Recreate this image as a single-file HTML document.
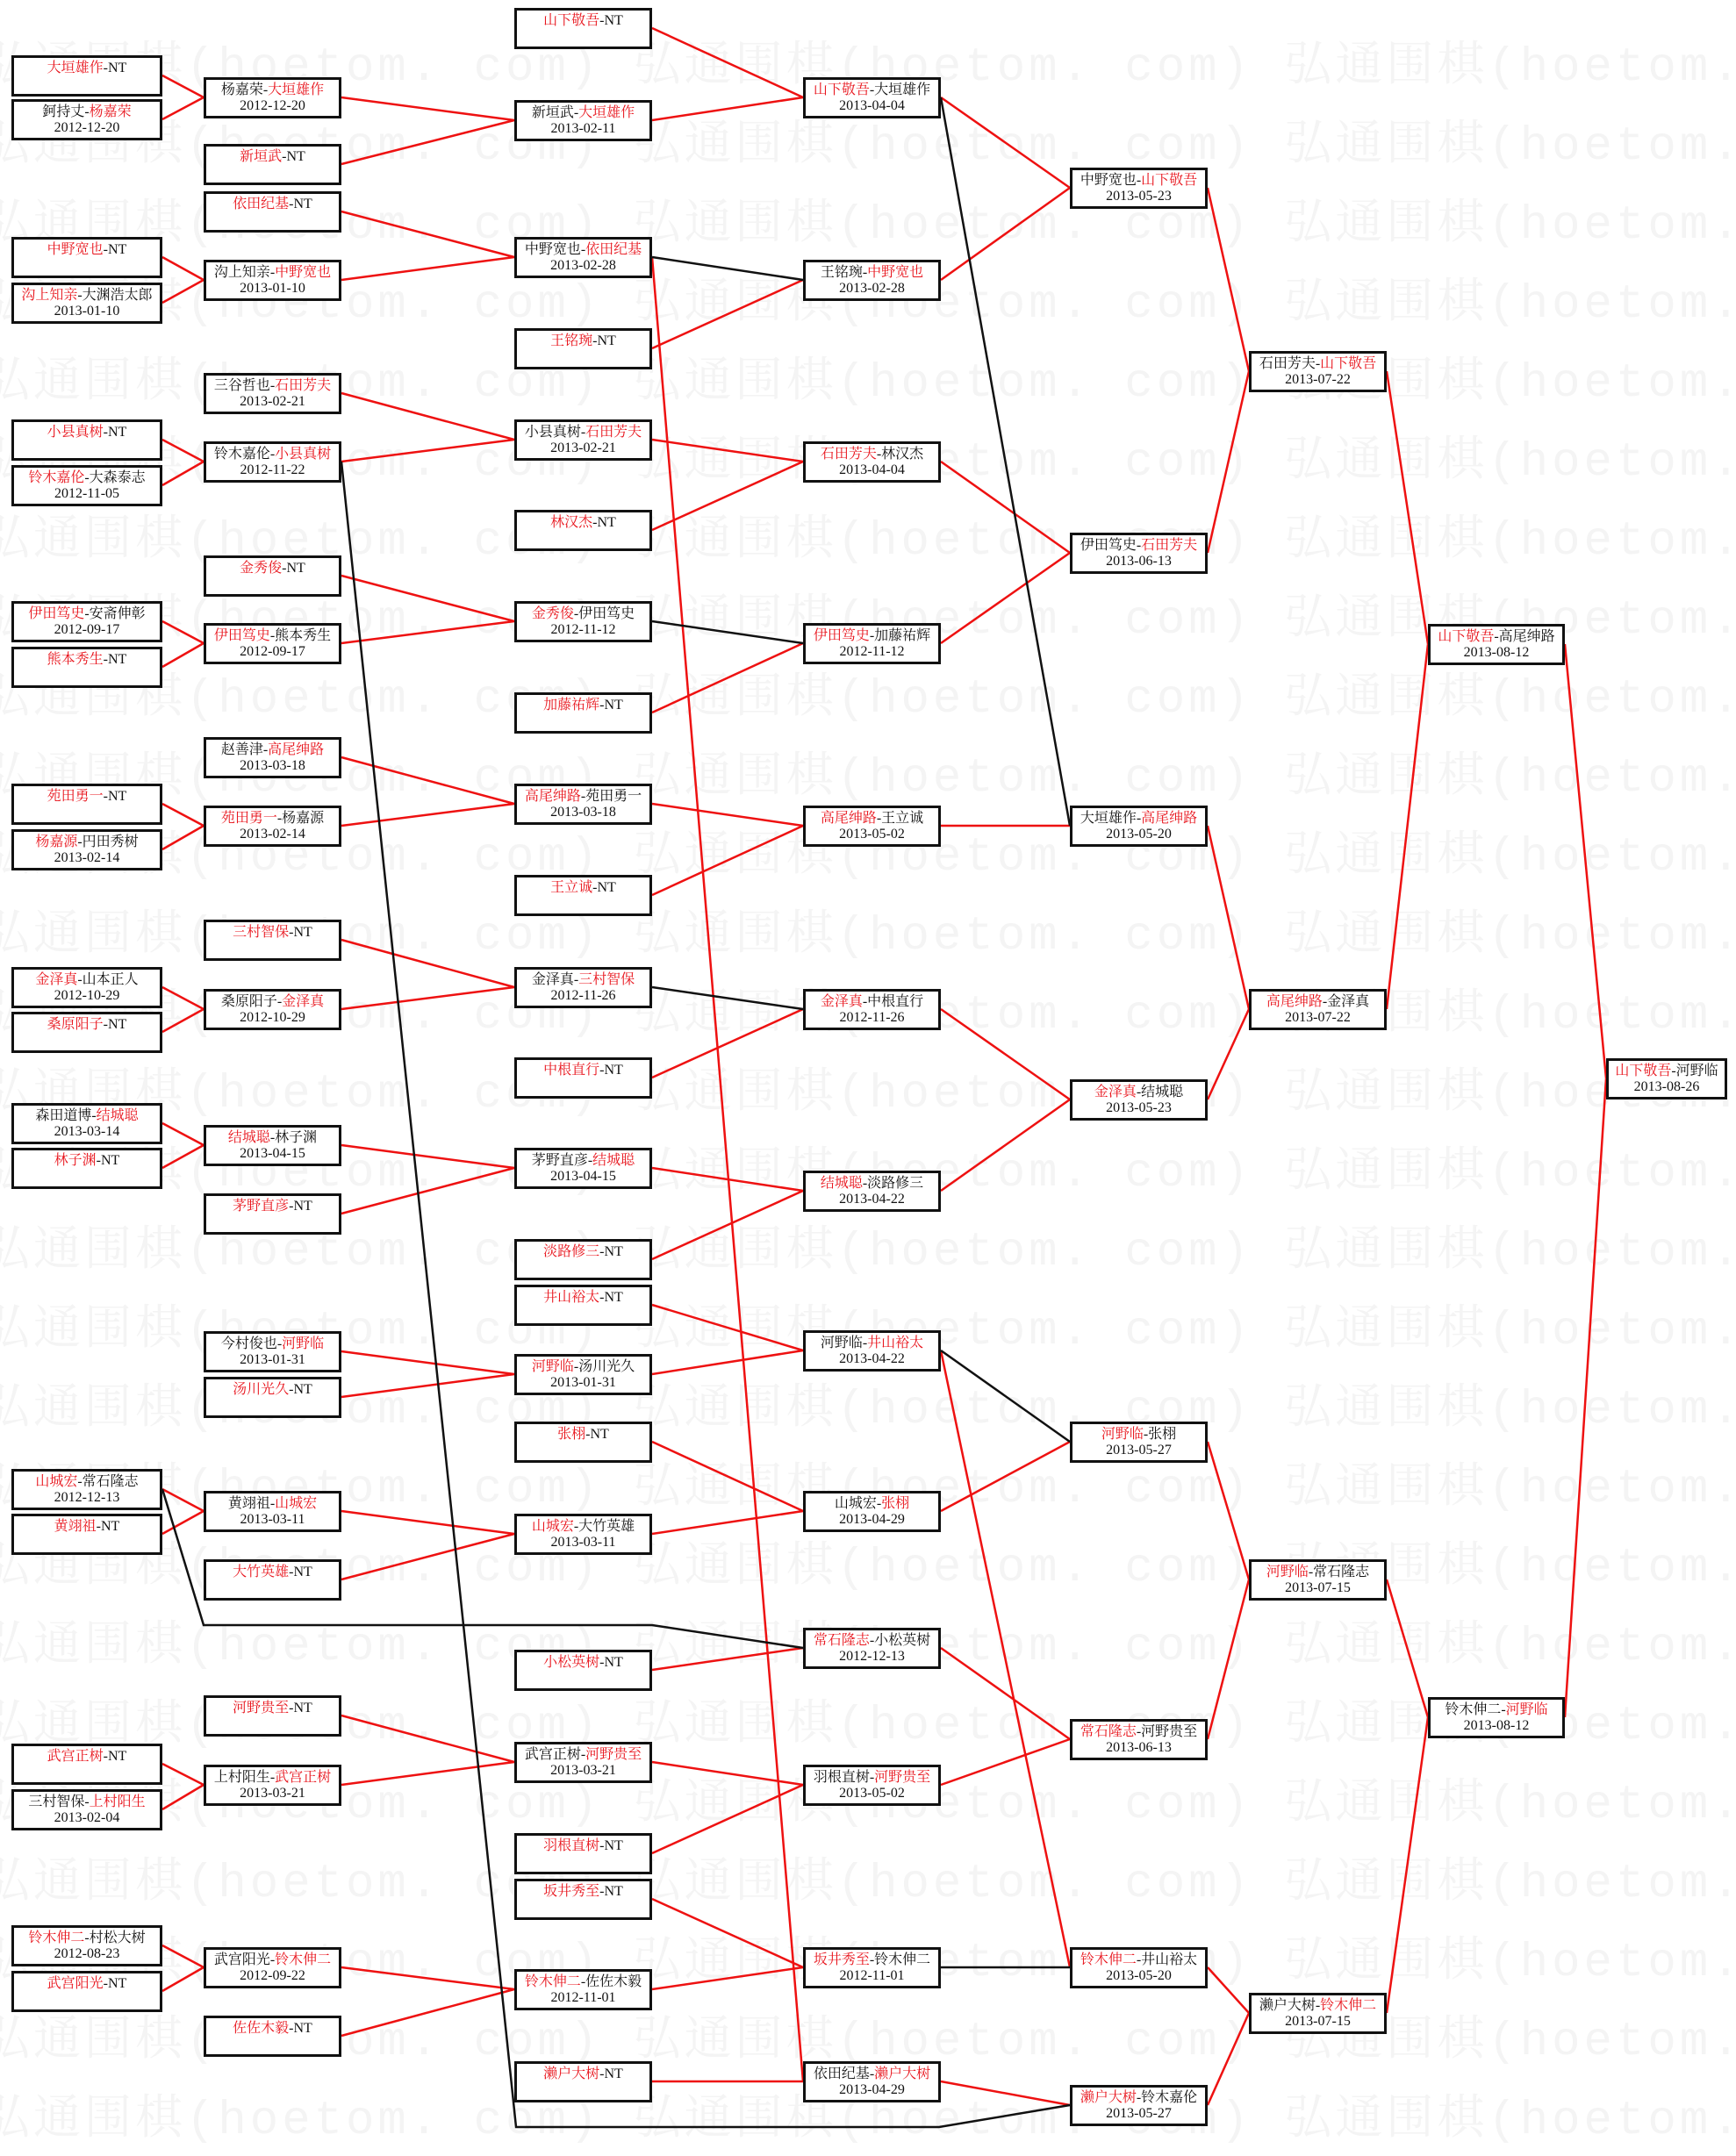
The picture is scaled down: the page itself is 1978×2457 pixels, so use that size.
<!DOCTYPE html>
<html><head><meta charset="utf-8">
<style>
html,body{margin:0;padding:0;background:#fff;}
#w{position:relative;width:1978px;height:2457px;overflow:hidden;background:#fff;}
.wm{position:absolute;left:-20px;white-space:nowrap;font-family:"Liberation Mono","Noto Serif CJK SC",monospace;font-size:54px;color:#f4f4f4;letter-spacing:4px;}
.b{position:absolute;height:38px;border:3px solid #111;background:#fff;font-family:"Liberation Serif","Noto Serif CJK SC",serif;font-size:16px;line-height:18px;text-align:center;padding-top:3px;box-sizing:content-box;color:#111;white-space:nowrap;}
.r{color:#e8141c;}
svg{position:absolute;left:0;top:0;}
</style></head><body><div id="w">
<div class="wm" style="top:30px">弘通围棋(hoetom. com) 弘通围棋(hoetom. com) 弘通围棋(hoetom. com)</div>
<div class="wm" style="top:120px">弘通围棋(hoetom. com) 弘通围棋(hoetom. com) 弘通围棋(hoetom. com)</div>
<div class="wm" style="top:210px">弘通围棋(hoetom. com) 弘通围棋(hoetom. com) 弘通围棋(hoetom. com)</div>
<div class="wm" style="top:300px">弘通围棋(hoetom. com) 弘通围棋(hoetom. com) 弘通围棋(hoetom. com)</div>
<div class="wm" style="top:390px">弘通围棋(hoetom. com) 弘通围棋(hoetom. com) 弘通围棋(hoetom. com)</div>
<div class="wm" style="top:480px">弘通围棋(hoetom. com) 弘通围棋(hoetom. com) 弘通围棋(hoetom. com)</div>
<div class="wm" style="top:570px">弘通围棋(hoetom. com) 弘通围棋(hoetom. com) 弘通围棋(hoetom. com)</div>
<div class="wm" style="top:660px">弘通围棋(hoetom. com) 弘通围棋(hoetom. com) 弘通围棋(hoetom. com)</div>
<div class="wm" style="top:750px">弘通围棋(hoetom. com) 弘通围棋(hoetom. com) 弘通围棋(hoetom. com)</div>
<div class="wm" style="top:840px">弘通围棋(hoetom. com) 弘通围棋(hoetom. com) 弘通围棋(hoetom. com)</div>
<div class="wm" style="top:930px">弘通围棋(hoetom. com) 弘通围棋(hoetom. com) 弘通围棋(hoetom. com)</div>
<div class="wm" style="top:1020px">弘通围棋(hoetom. com) 弘通围棋(hoetom. com) 弘通围棋(hoetom. com)</div>
<div class="wm" style="top:1110px">弘通围棋(hoetom. com) 弘通围棋(hoetom. com) 弘通围棋(hoetom. com)</div>
<div class="wm" style="top:1200px">弘通围棋(hoetom. com) 弘通围棋(hoetom. com) 弘通围棋(hoetom. com)</div>
<div class="wm" style="top:1290px">弘通围棋(hoetom. com) 弘通围棋(hoetom. com) 弘通围棋(hoetom. com)</div>
<div class="wm" style="top:1380px">弘通围棋(hoetom. com) 弘通围棋(hoetom. com) 弘通围棋(hoetom. com)</div>
<div class="wm" style="top:1470px">弘通围棋(hoetom. com) 弘通围棋(hoetom. com) 弘通围棋(hoetom. com)</div>
<div class="wm" style="top:1560px">弘通围棋(hoetom. com) 弘通围棋(hoetom. com) 弘通围棋(hoetom. com)</div>
<div class="wm" style="top:1650px">弘通围棋(hoetom. com) 弘通围棋(hoetom. com) 弘通围棋(hoetom. com)</div>
<div class="wm" style="top:1740px">弘通围棋(hoetom. com) 弘通围棋(hoetom. com) 弘通围棋(hoetom. com)</div>
<div class="wm" style="top:1830px">弘通围棋(hoetom. com) 弘通围棋(hoetom. com) 弘通围棋(hoetom. com)</div>
<div class="wm" style="top:1920px">弘通围棋(hoetom. com) 弘通围棋(hoetom. com) 弘通围棋(hoetom. com)</div>
<div class="wm" style="top:2010px">弘通围棋(hoetom. com) 弘通围棋(hoetom. com) 弘通围棋(hoetom. com)</div>
<div class="wm" style="top:2100px">弘通围棋(hoetom. com) 弘通围棋(hoetom. com) 弘通围棋(hoetom. com)</div>
<div class="wm" style="top:2190px">弘通围棋(hoetom. com) 弘通围棋(hoetom. com) 弘通围棋(hoetom. com)</div>
<div class="wm" style="top:2280px">弘通围棋(hoetom. com) 弘通围棋(hoetom. com) 弘通围棋(hoetom. com)</div>
<div class="wm" style="top:2370px">弘通围棋(hoetom. com) 弘通围棋(hoetom. com) 弘通围棋(hoetom. com)</div>

<svg width="1978" height="2457" fill="none" stroke-width="2.5">
<g stroke="#ee1111">
<path d="M185 86L232 111M185 136L232 111M185 293L232 319M185 345L232 319M185 501L232 526M185 553L232 526M185 708L232 733M185 760L232 733M185 916L232 941M185 968L232 941M185 1125L232 1150M185 1176L232 1150M185 1280L232 1305M185 1331L232 1305M185 1697L232 1722M185 1748L232 1722M185 2010L232 2034M185 2062L232 2034M185 2217L232 2242M185 2269L232 2242"/>
<path d="M389 111L586 137M389 187L586 137M389 241L586 293M389 319L586 293M389 448L586 501M389 526L586 501M389 656L586 708M389 733L586 708M389 863L586 916M389 941L586 916M389 1071L586 1125M389 1150L586 1125M389 1305L586 1331M389 1383L586 1331M389 1540L586 1566M389 1592L586 1566M389 1722L586 1748M389 1800L586 1748M389 1955L586 2008M389 2034L586 2008M389 2242L586 2267M389 2320L586 2267"/>
<path d="M743 32L915 111M743 137L915 111M743 397L915 319M743 501L915 526M743 604L915 526M743 812L915 733M743 916L915 941M743 1020L915 941M743 1228L915 1150M743 1331L915 1357M743 1435L915 1357M743 1487L915 1539M743 1566L915 1539M743 1643L915 1722M743 1748L915 1722M743 1903L915 1878M743 2008L915 2034M743 2112L915 2034M743 2164L915 2242M743 2267L915 2242M743 2372L915 2372M743 293L915 2372"/>
<path d="M1072 111L1219 214M1072 319L1219 214M1072 526L1219 630M1072 733L1219 630M1072 941L1219 941M1072 1150L1219 1253M1072 1357L1219 1253M1072 1722L1219 1643M1072 1539L1219 2242M1072 1878L1219 1982M1072 2034L1219 1982M1072 2372L1219 2399"/>
<path d="M1376 214L1423 423M1376 630L1423 423M1376 941L1423 1150M1376 1253L1423 1150M1376 1643L1423 1800M1376 1982L1423 1800M1376 2242L1423 2294M1376 2399L1423 2294"/>
<path d="M1580 423L1627 734M1580 1150L1627 734M1580 1800L1627 1957M1580 2294L1627 1957M1783 734L1830 1229M1783 1957L1830 1229"/>
</g>
<g stroke="#111">
<path d="M743 293L915 319M743 708L915 733M743 1125L915 1150M1072 111L1219 941M1072 1539L1219 1643M1072 2242L1219 2242"/>
<path d="M185 1697L232 1852L743 1852L915 1878"/>
<path d="M389 526L588 2424L1070 2424L1219 2399"/>
</g>
</svg>

<!-- col0 -->
<div class="b" style="left:13px;top:63px;width:166px"><span class="r">大垣雄作</span>-NT</div>
<div class="b" style="left:13px;top:113px;width:166px">鈳持丈-<span class="r">杨嘉荣</span><br>2012-12-20</div>
<div class="b" style="left:13px;top:270px;width:166px"><span class="r">中野宽也</span>-NT</div>
<div class="b" style="left:13px;top:322px;width:166px"><span class="r">沟上知亲</span>-大渊浩太郎<br>2013-01-10</div>
<div class="b" style="left:13px;top:478px;width:166px"><span class="r">小县真树</span>-NT</div>
<div class="b" style="left:13px;top:530px;width:166px"><span class="r">铃木嘉伦</span>-大森泰志<br>2012-11-05</div>
<div class="b" style="left:13px;top:685px;width:166px"><span class="r">伊田笃史</span>-安斋伸彰<br>2012-09-17</div>
<div class="b" style="left:13px;top:737px;width:166px"><span class="r">熊本秀生</span>-NT</div>
<div class="b" style="left:13px;top:893px;width:166px"><span class="r">苑田勇一</span>-NT</div>
<div class="b" style="left:13px;top:945px;width:166px"><span class="r">杨嘉源</span>-円田秀树<br>2013-02-14</div>
<div class="b" style="left:13px;top:1102px;width:166px"><span class="r">金泽真</span>-山本正人<br>2012-10-29</div>
<div class="b" style="left:13px;top:1153px;width:166px"><span class="r">桑原阳子</span>-NT</div>
<div class="b" style="left:13px;top:1257px;width:166px">森田道博-<span class="r">结城聪</span><br>2013-03-14</div>
<div class="b" style="left:13px;top:1308px;width:166px"><span class="r">林子渊</span>-NT</div>
<div class="b" style="left:13px;top:1674px;width:166px"><span class="r">山城宏</span>-常石隆志<br>2012-12-13</div>
<div class="b" style="left:13px;top:1725px;width:166px"><span class="r">黄翊祖</span>-NT</div>
<div class="b" style="left:13px;top:1987px;width:166px"><span class="r">武宫正树</span>-NT</div>
<div class="b" style="left:13px;top:2039px;width:166px">三村智保-<span class="r">上村阳生</span><br>2013-02-04</div>
<div class="b" style="left:13px;top:2194px;width:166px"><span class="r">铃木伸二</span>-村松大树<br>2012-08-23</div>
<div class="b" style="left:13px;top:2246px;width:166px"><span class="r">武宫阳光</span>-NT</div>
<!-- col1 -->
<div class="b" style="left:232px;top:88px;width:151px">杨嘉荣-<span class="r">大垣雄作</span><br>2012-12-20</div>
<div class="b" style="left:232px;top:164px;width:151px"><span class="r">新垣武</span>-NT</div>
<div class="b" style="left:232px;top:218px;width:151px"><span class="r">依田纪基</span>-NT</div>
<div class="b" style="left:232px;top:296px;width:151px">沟上知亲-<span class="r">中野宽也</span><br>2013-01-10</div>
<div class="b" style="left:232px;top:425px;width:151px">三谷哲也-<span class="r">石田芳夫</span><br>2013-02-21</div>
<div class="b" style="left:232px;top:503px;width:151px">铃木嘉伦-<span class="r">小县真树</span><br>2012-11-22</div>
<div class="b" style="left:232px;top:633px;width:151px"><span class="r">金秀俊</span>-NT</div>
<div class="b" style="left:232px;top:710px;width:151px"><span class="r">伊田笃史</span>-熊本秀生<br>2012-09-17</div>
<div class="b" style="left:232px;top:840px;width:151px">赵善津-<span class="r">高尾绅路</span><br>2013-03-18</div>
<div class="b" style="left:232px;top:918px;width:151px"><span class="r">苑田勇一</span>-杨嘉源<br>2013-02-14</div>
<div class="b" style="left:232px;top:1048px;width:151px"><span class="r">三村智保</span>-NT</div>
<div class="b" style="left:232px;top:1127px;width:151px">桑原阳子-<span class="r">金泽真</span><br>2012-10-29</div>
<div class="b" style="left:232px;top:1282px;width:151px"><span class="r">结城聪</span>-林子渊<br>2013-04-15</div>
<div class="b" style="left:232px;top:1360px;width:151px"><span class="r">茅野直彦</span>-NT</div>
<div class="b" style="left:232px;top:1517px;width:151px">今村俊也-<span class="r">河野临</span><br>2013-01-31</div>
<div class="b" style="left:232px;top:1569px;width:151px"><span class="r">汤川光久</span>-NT</div>
<div class="b" style="left:232px;top:1699px;width:151px">黄翊祖-<span class="r">山城宏</span><br>2013-03-11</div>
<div class="b" style="left:232px;top:1777px;width:151px"><span class="r">大竹英雄</span>-NT</div>
<div class="b" style="left:232px;top:1932px;width:151px"><span class="r">河野贵至</span>-NT</div>
<div class="b" style="left:232px;top:2011px;width:151px">上村阳生-<span class="r">武宫正树</span><br>2013-03-21</div>
<div class="b" style="left:232px;top:2219px;width:151px">武宫阳光-<span class="r">铃木伸二</span><br>2012-09-22</div>
<div class="b" style="left:232px;top:2297px;width:151px"><span class="r">佐佐木毅</span>-NT</div>
<!-- col2 -->
<div class="b" style="left:586px;top:9px;width:151px"><span class="r">山下敬吾</span>-NT</div>
<div class="b" style="left:586px;top:114px;width:151px">新垣武-<span class="r">大垣雄作</span><br>2013-02-11</div>
<div class="b" style="left:586px;top:270px;width:151px">中野宽也-<span class="r">依田纪基</span><br>2013-02-28</div>
<div class="b" style="left:586px;top:374px;width:151px"><span class="r">王铭琬</span>-NT</div>
<div class="b" style="left:586px;top:478px;width:151px">小县真树-<span class="r">石田芳夫</span><br>2013-02-21</div>
<div class="b" style="left:586px;top:581px;width:151px"><span class="r">林汉杰</span>-NT</div>
<div class="b" style="left:586px;top:685px;width:151px"><span class="r">金秀俊</span>-伊田笃史<br>2012-11-12</div>
<div class="b" style="left:586px;top:789px;width:151px"><span class="r">加藤祐辉</span>-NT</div>
<div class="b" style="left:586px;top:893px;width:151px"><span class="r">高尾绅路</span>-苑田勇一<br>2013-03-18</div>
<div class="b" style="left:586px;top:997px;width:151px"><span class="r">王立诚</span>-NT</div>
<div class="b" style="left:586px;top:1102px;width:151px">金泽真-<span class="r">三村智保</span><br>2012-11-26</div>
<div class="b" style="left:586px;top:1205px;width:151px"><span class="r">中根直行</span>-NT</div>
<div class="b" style="left:586px;top:1308px;width:151px">茅野直彦-<span class="r">结城聪</span><br>2013-04-15</div>
<div class="b" style="left:586px;top:1412px;width:151px"><span class="r">淡路修三</span>-NT</div>
<div class="b" style="left:586px;top:1464px;width:151px"><span class="r">井山裕太</span>-NT</div>
<div class="b" style="left:586px;top:1543px;width:151px"><span class="r">河野临</span>-汤川光久<br>2013-01-31</div>
<div class="b" style="left:586px;top:1620px;width:151px"><span class="r">张栩</span>-NT</div>
<div class="b" style="left:586px;top:1725px;width:151px"><span class="r">山城宏</span>-大竹英雄<br>2013-03-11</div>
<div class="b" style="left:586px;top:1880px;width:151px"><span class="r">小松英树</span>-NT</div>
<div class="b" style="left:586px;top:1985px;width:151px">武宫正树-<span class="r">河野贵至</span><br>2013-03-21</div>
<div class="b" style="left:586px;top:2089px;width:151px"><span class="r">羽根直树</span>-NT</div>
<div class="b" style="left:586px;top:2141px;width:151px"><span class="r">坂井秀至</span>-NT</div>
<div class="b" style="left:586px;top:2244px;width:151px"><span class="r">铃木伸二</span>-佐佐木毅<br>2012-11-01</div>
<div class="b" style="left:586px;top:2349px;width:151px"><span class="r">濑户大树</span>-NT</div>
<!-- col3 -->
<div class="b" style="left:915px;top:88px;width:151px"><span class="r">山下敬吾</span>-大垣雄作<br>2013-04-04</div>
<div class="b" style="left:915px;top:296px;width:151px">王铭琬-<span class="r">中野宽也</span><br>2013-02-28</div>
<div class="b" style="left:915px;top:503px;width:151px"><span class="r">石田芳夫</span>-林汉杰<br>2013-04-04</div>
<div class="b" style="left:915px;top:710px;width:151px"><span class="r">伊田笃史</span>-加藤祐辉<br>2012-11-12</div>
<div class="b" style="left:915px;top:918px;width:151px"><span class="r">高尾绅路</span>-王立诚<br>2013-05-02</div>
<div class="b" style="left:915px;top:1127px;width:151px"><span class="r">金泽真</span>-中根直行<br>2012-11-26</div>
<div class="b" style="left:915px;top:1334px;width:151px"><span class="r">结城聪</span>-淡路修三<br>2013-04-22</div>
<div class="b" style="left:915px;top:1516px;width:151px">河野临-<span class="r">井山裕太</span><br>2013-04-22</div>
<div class="b" style="left:915px;top:1699px;width:151px">山城宏-<span class="r">张栩</span><br>2013-04-29</div>
<div class="b" style="left:915px;top:1855px;width:151px"><span class="r">常石隆志</span>-小松英树<br>2012-12-13</div>
<div class="b" style="left:915px;top:2011px;width:151px">羽根直树-<span class="r">河野贵至</span><br>2013-05-02</div>
<div class="b" style="left:915px;top:2219px;width:151px"><span class="r">坂井秀至</span>-铃木伸二<br>2012-11-01</div>
<div class="b" style="left:915px;top:2349px;width:151px">依田纪基-<span class="r">濑户大树</span><br>2013-04-29</div>
<!-- col4 -->
<div class="b" style="left:1219px;top:191px;width:151px">中野宽也-<span class="r">山下敬吾</span><br>2013-05-23</div>
<div class="b" style="left:1219px;top:607px;width:151px">伊田笃史-<span class="r">石田芳夫</span><br>2013-06-13</div>
<div class="b" style="left:1219px;top:918px;width:151px">大垣雄作-<span class="r">高尾绅路</span><br>2013-05-20</div>
<div class="b" style="left:1219px;top:1230px;width:151px"><span class="r">金泽真</span>-结城聪<br>2013-05-23</div>
<div class="b" style="left:1219px;top:1620px;width:151px"><span class="r">河野临</span>-张栩<br>2013-05-27</div>
<div class="b" style="left:1219px;top:1959px;width:151px"><span class="r">常石隆志</span>-河野贵至<br>2013-06-13</div>
<div class="b" style="left:1219px;top:2219px;width:151px"><span class="r">铃木伸二</span>-井山裕太<br>2013-05-20</div>
<div class="b" style="left:1219px;top:2376px;width:151px"><span class="r">濑户大树</span>-铃木嘉伦<br>2013-05-27</div>
<!-- col5 -->
<div class="b" style="left:1423px;top:400px;width:151px">石田芳夫-<span class="r">山下敬吾</span><br>2013-07-22</div>
<div class="b" style="left:1423px;top:1127px;width:151px"><span class="r">高尾绅路</span>-金泽真<br>2013-07-22</div>
<div class="b" style="left:1423px;top:1777px;width:151px"><span class="r">河野临</span>-常石隆志<br>2013-07-15</div>
<div class="b" style="left:1423px;top:2271px;width:151px">濑户大树-<span class="r">铃木伸二</span><br>2013-07-15</div>
<!-- col6 -->
<div class="b" style="left:1627px;top:711px;width:150px"><span class="r">山下敬吾</span>-高尾绅路<br>2013-08-12</div>
<div class="b" style="left:1627px;top:1934px;width:150px">铃木伸二-<span class="r">河野临</span><br>2013-08-12</div>
<!-- col7 -->
<div class="b" style="left:1830px;top:1206px;width:132px"><span class="r">山下敬吾</span>-河野临<br>2013-08-26</div>
</div></body></html>
